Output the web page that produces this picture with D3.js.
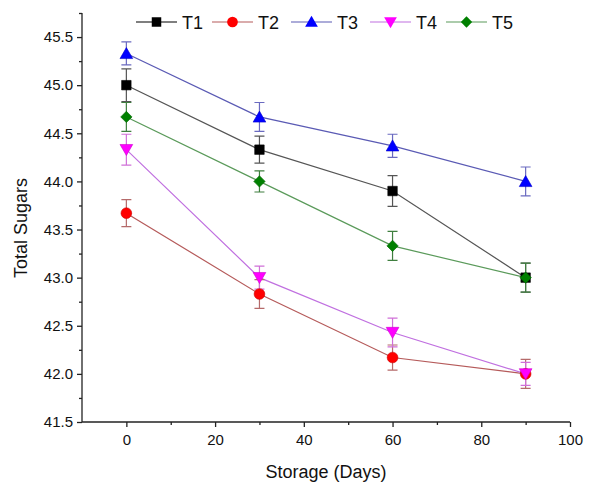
<!DOCTYPE html>
<html>
<head>
<meta http-equiv="Content-Type" content="text/html;charset=utf-8"/>
<script src="https://d3js.org/d3.v7.min.js"></script>
<style type="text/css">
body { margin: 0; background: #fff; }
text { font-family: "Liberation Sans", Arial, sans-serif; fill: #111; }
.axis path, .axis line { stroke: #222; stroke-width: 1.3; }
</style>
</head>
<body>
<script>
// chart data
var days = [0, 30, 60, 90];
var seriesNames = ["T1", "T2", "T3", "T4", "T5"];
var t1 = [45.0, 44.33, 43.9, 43.0];
var t2 = [43.67, 42.83, 42.17, 42.0];
var t3 = [45.33, 44.67, 44.37, 44.0];
var t4 = [44.33, 43.0, 42.43, 42.0];
var t5 = [44.67, 44.0, 43.33, 43.0];
var t1Err = [0.17, 0.14, 0.16, 0.15];
var t2Err = [0.14, 0.15, 0.13, 0.15];
var t3Err = [0.12, 0.15, 0.12, 0.15];
var t4Err = [0.16, 0.12, 0.15, 0.12];
var t5Err = [0.15, 0.11, 0.15, 0.15];
var yTicks = [41.5, 42.0, 42.5, 43.0, 43.5, 44.0, 44.5, 45.0, 45.5];
var xTicks = [0, 20, 40, 60, 80, 100];

var width = 599,
    height = 482;

// styles per series
var markerFill = ["#000000", "#ff0000", "#0000ff", "#ff00ff", "#008000"];
var lineColor = ["#555555", "#b55a5a", "#5a5ab4", "#c070e0", "#5a9a5a"];
var errColor = ["#555555", "#b56a6a", "#6a6ac0", "#d070d8", "#3f7f3f"];
var symbols = [d3.symbolSquare, d3.symbolCircle, d3.symbolTriangle, d3.symbolTriangle, d3.symbolSquare];
var symSize = [90, 90, 70, 70, 64];
var symRotate = [0, 0, 0, 180, 45];

var values = [t1, t2, t3, t4, t5];
var errors = [t1Err, t2Err, t3Err, t4Err, t5Err];

var series = seriesNames.map(function(name, i) {
    return {
        name: name,
        i: i,
        points: days.map(function(d, j) {
            return { x: d, y: values[i][j], e: errors[i][j] };
        })
    };
});

var x = d3.scaleLinear().domain([-10, 100]).range([82, 570]);
var y = d3.scaleLinear().domain([41.5, 45.75]).range([422, 13]);

var svg = d3.select("body")
            .append("svg")
            .attr("width", width)
            .attr("height", height);

// axes
var yAxis = svg.append("g")
    .attr("class", "axis")
    .attr("transform", "translate(" + x.range()[0] + ",0)")
    .call(d3.axisLeft(y).tickValues(d3.range(41.5, 45.76, 0.25)).tickSize(5)
        .tickFormat(function(d) { return yTicks.indexOf(+d.toFixed(2)) >= 0 ? d3.format(".1f")(d) : ""; }))
    .call(function(g) { g.select(".domain").attr("d", "M0," + y.range()[0] + "V" + y.range()[1]); });

yAxis.selectAll(".tick").filter(function(d) { return yTicks.indexOf(+d.toFixed(2)) < 0; })
    .select("line").attr("x2", -3);
yAxis.selectAll(".tick text")
    .attr("x", -9)
    .style("font-size", "15px")
    .style("font-family", "Liberation Sans, Arial, sans-serif")
    .attr("fill", "#111");

var xAxis = svg.append("g")
    .attr("class", "axis")
    .attr("transform", "translate(0," + y.range()[0] + ")")
    .call(d3.axisBottom(x).tickValues(d3.range(-10, 100.1, 10)).tickSize(5)
        .tickFormat(function(d) { return xTicks.indexOf(d) >= 0 ? d : ""; }))
    .call(function(g) { g.select(".domain").attr("d", "M" + x.range()[0] + ",0H" + x.range()[1]); });

xAxis.selectAll(".tick").filter(function(d) { return xTicks.indexOf(d) < 0; })
    .select("line").attr("y2", 3);
xAxis.selectAll(".tick").filter(function(d) { return d === -10; }).remove();
xAxis.selectAll(".tick text")
    .attr("y", 12)
    .style("font-size", "15px")
    .style("font-family", "Liberation Sans, Arial, sans-serif")
    .attr("fill", "#111");

// axis titles
svg.append("text")
    .attr("x", (x.range()[0] + x.range()[1]) / 2)
    .attr("y", 478)
    .attr("text-anchor", "middle")
    .style("font-size", "18px")
    .text("Storage (Days)");

svg.append("text")
    .attr("transform", "translate(27," + 228 + ") rotate(-90)")
    .attr("text-anchor", "middle")
    .style("font-size", "18px")
    .text("Total Sugars");

// lines
var line = d3.line()
    .x(function(d) { return x(d.x); })
    .y(function(d) { return y(d.y); });

svg.append("g")
   .selectAll("path")
   .data(series)
   .enter()
   .append("path")
   .attr("d", function(d) { return line(d.points); })
   .style("fill", "none")
   .style("stroke", function(d) { return lineColor[d.i]; })
   .style("stroke-width", 1.2);

// error bars
var errG = svg.append("g")
   .selectAll("g")
   .data(series)
   .enter()
   .append("g")
   .style("stroke", function(d) { return errColor[d.i]; })
   .style("stroke-width", 1.2);

errG.selectAll("path")
   .data(function(d) { return d.points; })
   .enter()
   .append("path")
   .style("fill", "none")
   .attr("d", function(d) {
        var cx = x(d.x), top = y(d.y + d.e), bot = y(d.y - d.e);
        return "M" + (cx - 5) + "," + top + "H" + (cx + 5) +
               "M" + cx + "," + top + "V" + bot +
               "M" + (cx - 5) + "," + bot + "H" + (cx + 5);
   });

// markers
var sym = function(i) { return d3.symbol().type(symbols[i]).size(symSize[i])(); };

var markG = svg.append("g")
   .selectAll("g")
   .data(series)
   .enter()
   .append("g");

markG.selectAll("path")
   .data(function(d) { return d.points.map(function(p) { return { p: p, i: d.i }; }); })
   .enter()
   .append("path")
   .attr("d", function(d) { return sym(d.i); })
   .attr("transform", function(d) {
        var dy = d.i === 2 ? 1.5 : (d.i === 3 ? -1.5 : 0);
        return "translate(" + x(d.p.x) + "," + (y(d.p.y) + dy) + ") rotate(" + symRotate[d.i] + ")";
   })
   .style("fill", function(d) { return markerFill[d.i]; })
   .style("stroke", function(d) { return d3.color(markerFill[d.i]).darker(0.6); })
   .style("stroke-width", 0.6);

// legend
var legX = [136, 212, 291, 370, 446];
var legend = svg.append("g")
   .selectAll("g")
   .data(series)
   .enter()
   .append("g")
   .attr("transform", function(d) { return "translate(" + legX[d.i] + ",22)"; });

legend.append("line")
   .attr("x1", 0).attr("x2", 41)
   .style("stroke", function(d) { return d.i === 0 ? "#000" : lineColor[d.i]; })
   .style("stroke-width", 1.2);

legend.append("path")
   .attr("d", function(d) { return sym(d.i); })
   .attr("transform", function(d) {
        var dy = d.i === 2 ? 1 : (d.i === 3 ? -1 : 0);
        return "translate(20.5," + dy + ") rotate(" + symRotate[d.i] + ")";
   })
   .style("fill", function(d) { return markerFill[d.i]; });

legend.append("text")
   .attr("x", 46)
   .attr("y", 6.5)
   .style("font-size", "18px")
   .text(function(d) { return d.name; });
</script>
</body>
</html>
